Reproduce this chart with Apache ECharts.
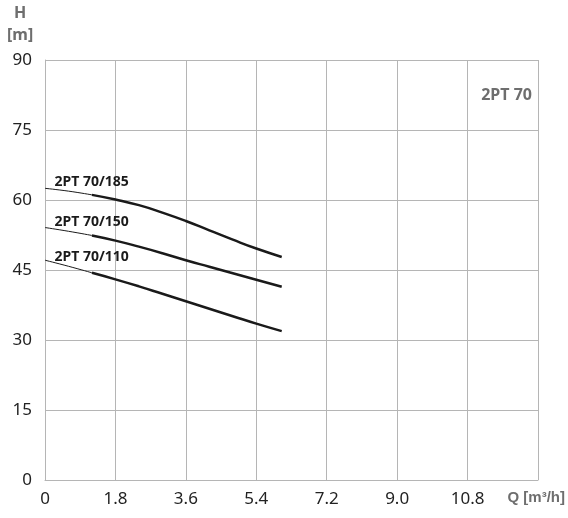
<!DOCTYPE html>
<html>
<head>
<meta charset="utf-8">
<script src="https://cdn.jsdelivr.net/npm/echarts@6/dist/echarts.min.js"></script>
<style>
html,body{margin:0;padding:0;background:#fff;}
#c{width:568px;height:518px;}
</style>
</head>
<body>
<div id="c"></div>
<script>
const flow = [0, 0.6, 1.2, 1.8, 2.4, 3.0, 3.6, 4.2, 4.8, 5.4, 6.05];
const head185 = [62.5, 61.9, 61.1, 60.1, 58.9, 57.3, 55.5, 53.5, 51.5, 49.6, 47.8];
const head150 = [54.1, 53.3, 52.4, 51.3, 50.0, 48.6, 47.1, 45.7, 44.3, 42.9, 41.4];
const head110 = [47.1, 45.8, 44.4, 43.0, 41.5, 39.9, 38.3, 36.7, 35.1, 33.5, 31.9];
const curveNames = ['2PT 70/185', '2PT 70/150', '2PT 70/110'];
const labelOffsets = [[9, -6], [9, -6], [9, -3]];
const xTicks = {min: 0, max: 12.6, interval: 1.8};
const yTicks = {min: 0, max: 90, interval: 15};
const heads = [head185, head150, head110];
const thinEnd = 2;

const chart = echarts.init(document.getElementById('c'));
const series = [];
heads.forEach((h, i) => {
  const pts = flow.map((q, k) => [q, h[k]]);
  series.push({
    type: 'line', smooth: true, symbol: 'none', silent: true,
    data: pts.slice(0, thinEnd + 1),
    lineStyle: {color: '#1a1a1a', width: 1},
    markPoint: {
      symbol: 'circle', symbolSize: 1, itemStyle: {color: 'rgba(0,0,0,0)'},
      data: [{coord: pts[0], name: curveNames[i]}],
      label: {
        show: true, position: 'right', distance: 0,
        offset: labelOffsets[i],
        formatter: curveNames[i],
        color: '#1a1a1a', fontSize: 14, fontWeight: 'bold',
        fontFamily: 'Noto Sans'
      }
    }
  });
  series.push({
    type: 'line', smooth: true, symbol: 'none', silent: true,
    data: pts.slice(thinEnd),
    lineStyle: {color: '#1a1a1a', width: 2.5}
  });
});

const gtext = (opts, text, size, family) => Object.assign({
  type: 'text',
  style: {text: text, fill: '#6e6e6e', fontSize: size, fontWeight: 'bold', fontFamily: family}
}, opts);

chart.setOption({
  animation: false,
  grid: {left: 45, top: 60, right: 30, bottom: 38},
  xAxis: {
    type: 'value', min: xTicks.min, max: xTicks.max, interval: xTicks.interval,
    axisLine: {show: true, lineStyle: {color: '#b5b5b5'}},
    axisTick: {show: false},
    splitLine: {show: true, lineStyle: {color: '#b5b5b5', width: 1}},
    axisLabel: {
      showMaxLabel: false, margin: 11,
      color: '#222', fontSize: 17, fontFamily: 'Noto Sans',
      formatter: v => v === 0 ? '0' : v.toFixed(1)
    }
  },
  yAxis: {
    type: 'value', min: yTicks.min, max: yTicks.max, interval: yTicks.interval,
    axisLine: {show: true, lineStyle: {color: '#b5b5b5'}},
    axisTick: {show: false},
    splitLine: {show: true, lineStyle: {color: '#b5b5b5', width: 1}},
    axisLabel: {margin: 13, color: '#222', fontSize: 17, fontFamily: 'Noto Sans'}
  },
  graphic: [
    gtext({left: 14, top: 5}, 'H', 16, 'Noto Sans'),
    gtext({left: 7, top: 27}, '[m]', 16, 'Noto Sans'),
    gtext({right: 3, top: 490}, 'Q [m³/h]', 15, 'Liberation Sans'),
    gtext({right: 36, top: 87}, '2PT 70', 16, 'Noto Sans')
  ],
  series: series
});
</script>
</body>
</html>
